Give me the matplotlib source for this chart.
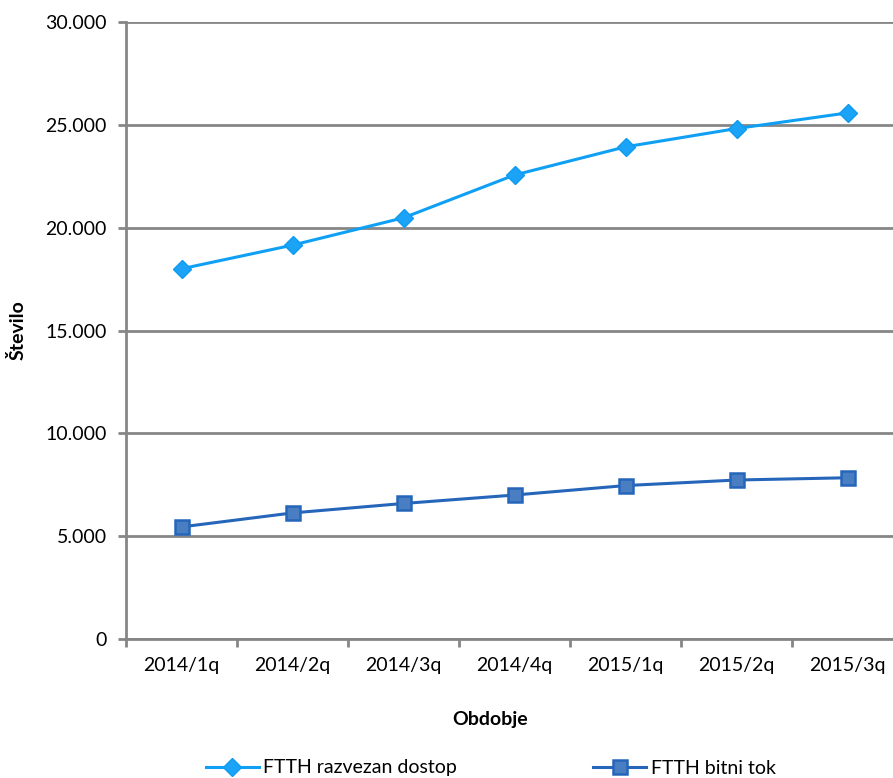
import matplotlib
matplotlib.use("Agg")
import matplotlib.pyplot as plt
from matplotlib.ticker import FuncFormatter, FixedLocator

plt.rcParams['font.family'] = ['Lato', 'DejaVu Sans']

categories = ["2014/1q", "2014/2q", "2014/3q", "2014/4q", "2015/1q", "2015/2q", "2015/3q"]
razvezan = [18000, 19150, 20480, 22560, 23930, 24820, 25580]
bitni = [5450, 6130, 6590, 7000, 7460, 7730, 7840]
label_razvezan = "FTTH razvezan dostop"
label_bitni = "FTTH bitni tok"

W, H = 893, 778
FS = 14
fig = plt.figure(figsize=(W / 100, H / 100), dpi=100)
ax = fig.add_axes([126 / W, 1 - 639 / H, 777 / W, 617 / H])

x = list(range(len(categories)))
ax.plot(x, razvezan, color="#0FA0F5", lw=2.2, marker="D", markersize=9,
        markerfacecolor="#1AA3F7", markeredgecolor="#0E9BF0", label=label_razvezan, zorder=3)
ax.plot(x, bitni, color="#2566BA", lw=2.2, marker="s", markersize=10,
        markerfacecolor="#4A7EC2", markeredgecolor="#2566BA", markeredgewidth=1.8,
        label=label_bitni, zorder=3)

ax.set_xlim(-0.5, len(categories) - 0.5)
ax.set_ylim(0, 30000)
ax.yaxis.set_major_locator(FixedLocator([0, 5000, 10000, 15000, 20000, 25000, 30000]))
ax.yaxis.set_major_formatter(FuncFormatter(lambda v, p: f"{int(v):,}".replace(",", ".")))
ax.set_xticks(x)
ax.set_xticklabels(categories)
ax.set_xticks([i + 0.5 for i in range(-1, len(categories))], minor=True)
ax.tick_params(axis="x", which="major", length=0, pad=13, labelsize=FS)
ax.tick_params(axis="x", which="minor", length=6, width=2, color="#868686")
ax.tick_params(axis="y", length=6, width=2, color="#868686", labelsize=FS, pad=8)

ax.grid(axis="y", color="#868686", lw=2)
ax.set_axisbelow(True)
for s in ["top", "right"]:
    ax.spines[s].set_visible(False)
for s in ["left", "bottom"]:
    ax.spines[s].set_color("#868686")
    ax.spines[s].set_linewidth(2)

fig.text(18 / W, 1 - 330 / H, "Število", rotation=90, ha="center", va="center",
         fontsize=FS, fontweight="bold")
fig.text(490 / W, 1 - 720 / H, "Obdobje", ha="center", va="center",
         fontsize=FS, fontweight="bold")

fig.legend(loc="center left", bbox_to_anchor=(206 / W, 1 - 768 / H), ncol=2, frameon=False,
           fontsize=FS, columnspacing=7.0, handlelength=2.7, handletextpad=0.25,
           borderaxespad=0, borderpad=0)

fig.savefig("out.png", dpi=100)
